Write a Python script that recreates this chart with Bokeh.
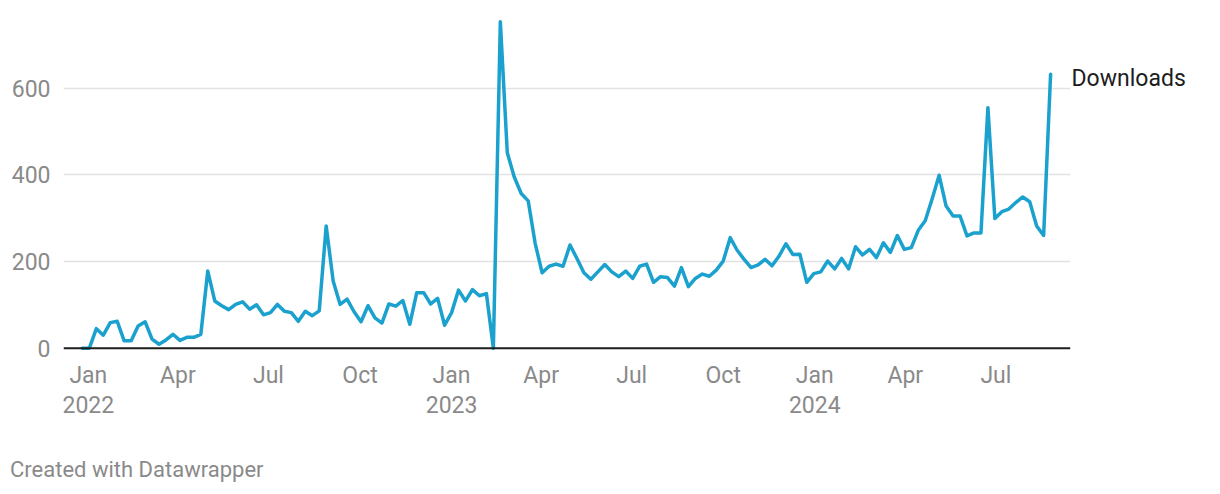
import pandas as pd
from bokeh.plotting import figure
from bokeh.layouts import column
from bokeh.models import ColumnDataSource, Range1d, FixedTicker, Span, LinearAxis, Div
from bokeh.embed import file_html
from bokeh.resources import INLINE

# ---- data (weekly downloads) ----
start_date = "2021-12-26"
downloads = [
    0, 0, 45, 30, 59, 62, 17, 17, 51, 61, 21, 9, 19, 32, 18, 25, 25, 32, 178, 109,
    98, 89, 101, 107, 90, 100, 77, 82, 101, 85, 82, 62,
    85, 75, 86, 282, 155, 101, 113, 84, 61, 98, 70, 58, 102, 97, 110, 55, 128, 128,
    102, 115, 53, 82, 134, 109, 135, 121, 126, 0, 753,
    451, 395, 357, 340, 242, 174, 189, 194, 189, 238, 207, 174, 159, 176, 193, 176,
    165, 178, 161, 189, 194, 152, 165, 163,
    143, 186, 142, 161, 171, 166, 180, 201, 255, 226, 205, 186, 192, 205, 190, 212,
    241, 216, 217, 152, 172, 176, 201, 183, 207, 183, 234, 215, 228, 209, 243,
    221, 260, 228, 232, 272, 294, 345, 399, 328, 305, 305, 259, 266, 266, 555, 299,
    315, 321, 336, 349, 338, 282, 260, 632,
]
series_name = "Downloads"
x_tick_dates = ["2022-01-01", "2022-04-01", "2022-07-01", "2022-10-01",
                "2023-01-01", "2023-04-01", "2023-07-01", "2023-10-01",
                "2024-01-01", "2024-04-01", "2024-07-01"]
x_tick_labels = ["Jan\n2022", "Apr", "Jul", "Oct", "Jan\n2023", "Apr", "Jul", "Oct",
                 "Jan\n2024", "Apr", "Jul"]
y_ticks = [0, 200, 400, 600]
footer_text = "Created with Datawrapper"

dates = pd.date_range(start_date, periods=len(downloads), freq="7D")
source = ColumnDataSource(dict(date=dates, downloads=downloads))

def ms(d):
    return int(pd.Timestamp(d).value // 10**6)

FONT = "Roboto"
GREY = "#8a8a8a"
Y0, Y1 = -10, 770

p = figure(width=1220, height=456, x_axis_type="datetime",
           x_range=Range1d(ms("2021-12-07"), ms("2024-09-14")),
           y_range=Range1d(Y0, Y1),
           output_backend="svg", toolbar_location=None,
           min_border_left=63, min_border_right=150,
           min_border_top=14, min_border_bottom=104)
p.outline_line_color = None
p.background_fill_color = "white"
p.border_fill_color = "white"

# grid
p.xgrid.grid_line_color = None
p.ygrid.ticker = FixedTicker(ticks=[200, 400, 600])
p.ygrid.grid_line_color = "#e2e2e2"
p.ygrid.grid_line_width = 1.5

# y axis
p.yaxis.ticker = FixedTicker(ticks=y_ticks)
p.yaxis.axis_line_color = None
p.yaxis.major_tick_line_color = None
p.yaxis.minor_tick_line_color = None
p.yaxis.major_label_standoff = 7
p.yaxis.major_label_text_font = FONT
p.yaxis.major_label_text_font_size = "23px"
p.yaxis.major_label_text_color = GREY

# x axis
tick_ms = [ms(d) for d in x_tick_dates]
p.xaxis.ticker = FixedTicker(ticks=tick_ms)
p.xaxis.major_label_overrides = {t: lab for t, lab in zip(tick_ms, x_tick_labels)}
p.xaxis.axis_line_color = None
p.xaxis.major_tick_line_color = None
p.xaxis.minor_tick_line_color = None
p.xaxis.major_label_standoff = 3
p.xaxis.major_label_text_font = FONT
p.xaxis.major_label_text_font_size = "23px"
p.xaxis.major_label_text_color = GREY
p.xaxis.major_label_text_line_height = 1.13

# series label as a right-hand axis with one tick at the last value
# (its range is nudged so the label sits a few pixels below the line end)
p.extra_y_ranges = {"label": Range1d(Y0 + 9, Y1 + 9)}
label_axis = LinearAxis(y_range_name="label",
                        ticker=FixedTicker(ticks=[downloads[-1]]),
                        major_label_overrides={downloads[-1]: series_name},
                        axis_line_color=None, major_tick_line_color=None,
                        minor_tick_line_color=None, major_label_standoff=-5,
                        major_label_text_font=FONT, major_label_text_font_size="23px",
                        major_label_text_color="#1d1d1d")
p.add_layout(label_axis, "right")

# baseline
p.add_layout(Span(location=0, dimension="width", line_color="#1d1d1d", line_width=2))

# line
p.line(x="date", y="downloads", source=source, line_color="#1aa1cd", line_width=3.5,
       line_join="round", line_cap="round")

# footer
footer = Div(text=footer_text, width=600, height=38, margin=(0, 0, 0, 10),
             styles={"font-family": FONT, "font-size": "22px", "line-height": "26px",
                     "color": GREY, "padding-top": "1px"})

layout = column(p, footer, spacing=0)
open("out.html", "w").write(file_html(layout, INLINE))
